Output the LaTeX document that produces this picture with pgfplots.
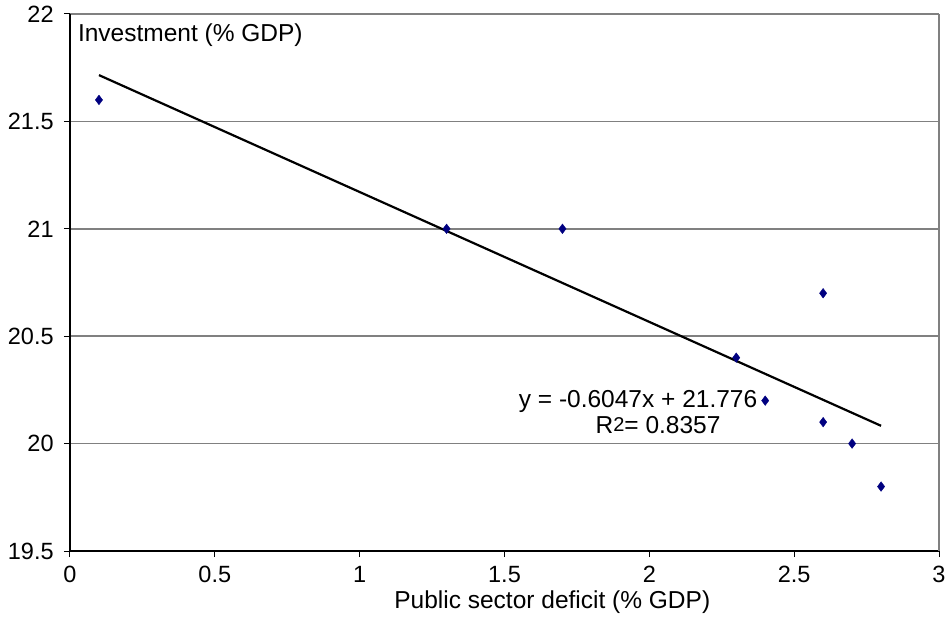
\documentclass[border=0pt]{standalone}
\usepackage{fontspec}
\setmainfont{Liberation Sans}
\usepackage{pgfplots}
\pgfplotsset{compat=1.18}
\definecolor{navy}{RGB}{0,0,128}
\definecolor{gridgray}{RGB}{128,128,128}
\begin{document}
\fontsize{24.5}{28}\selectfont
\begin{tikzpicture}
  % page = 949 x 616, axis box 869 x 537 at (70,14) from top-left
  \useasboundingbox (-70pt,-65pt) rectangle (879pt,551pt);
  \begin{axis}[
      scale only axis,
      width=869pt, height=537pt,
      xmin=0, xmax=3, ymin=19.5, ymax=22,
      xtick={0,0.5,...,3},
      ytick={19.5,20,...,22},
      axis x line*=bottom,
      axis y line*=left,
      axis line style={black, line width=1.3pt, -},
      tick style={black, line width=1pt},
      major tick length=6pt,
      tick align=outside,
      ymajorgrids,
      major grid style={gridgray, line width=1.5pt},
      /pgf/number format/assume math mode=true,
      ticklabel style={font=\fontsize{23.5}{27}\selectfont},
      xticklabel style={yshift=-1pt},
      yticklabel style={xshift=-2pt},
      xlabel={Public sector deficit (\% GDP)},
      xlabel style={at={(axis description cs:0.555,0)}, anchor=base, yshift=-57pt},
      clip=false,
    ]
    \draw[gridgray, line width=1.5pt] (rel axis cs:1,0) -- (rel axis cs:1,1);
    \addplot[only marks, mark=diamond*, mark size=4.8pt, color=navy] coordinates {
        (0.1,21.6) (1.3,21.0) (1.7,21.0) (2.3,20.4) (2.4,20.2)
        (2.6,20.7) (2.6,20.1) (2.7,20.0) (2.8,19.8)
      };
    % linear trend y = -0.6047x + 21.776
    \addplot[black, line width=2.2pt] coordinates {(0.1,21.7155) (2.8,20.0828)};
    \node[anchor=base west, inner sep=0pt] at (axis description cs:0.009,0.948) {Investment (\% GDP)};
    \node[anchor=base, inner sep=0pt] at (axis cs:1.961,20.166) {y = -0.6047x + 21.776};
    \node[anchor=base, inner sep=0pt] at (axis cs:2.030,20.049) {R\raisebox{2pt}{\fontsize{20}{20}\selectfont 2}= 0.8357};
  \end{axis}
\end{tikzpicture}
\end{document}
